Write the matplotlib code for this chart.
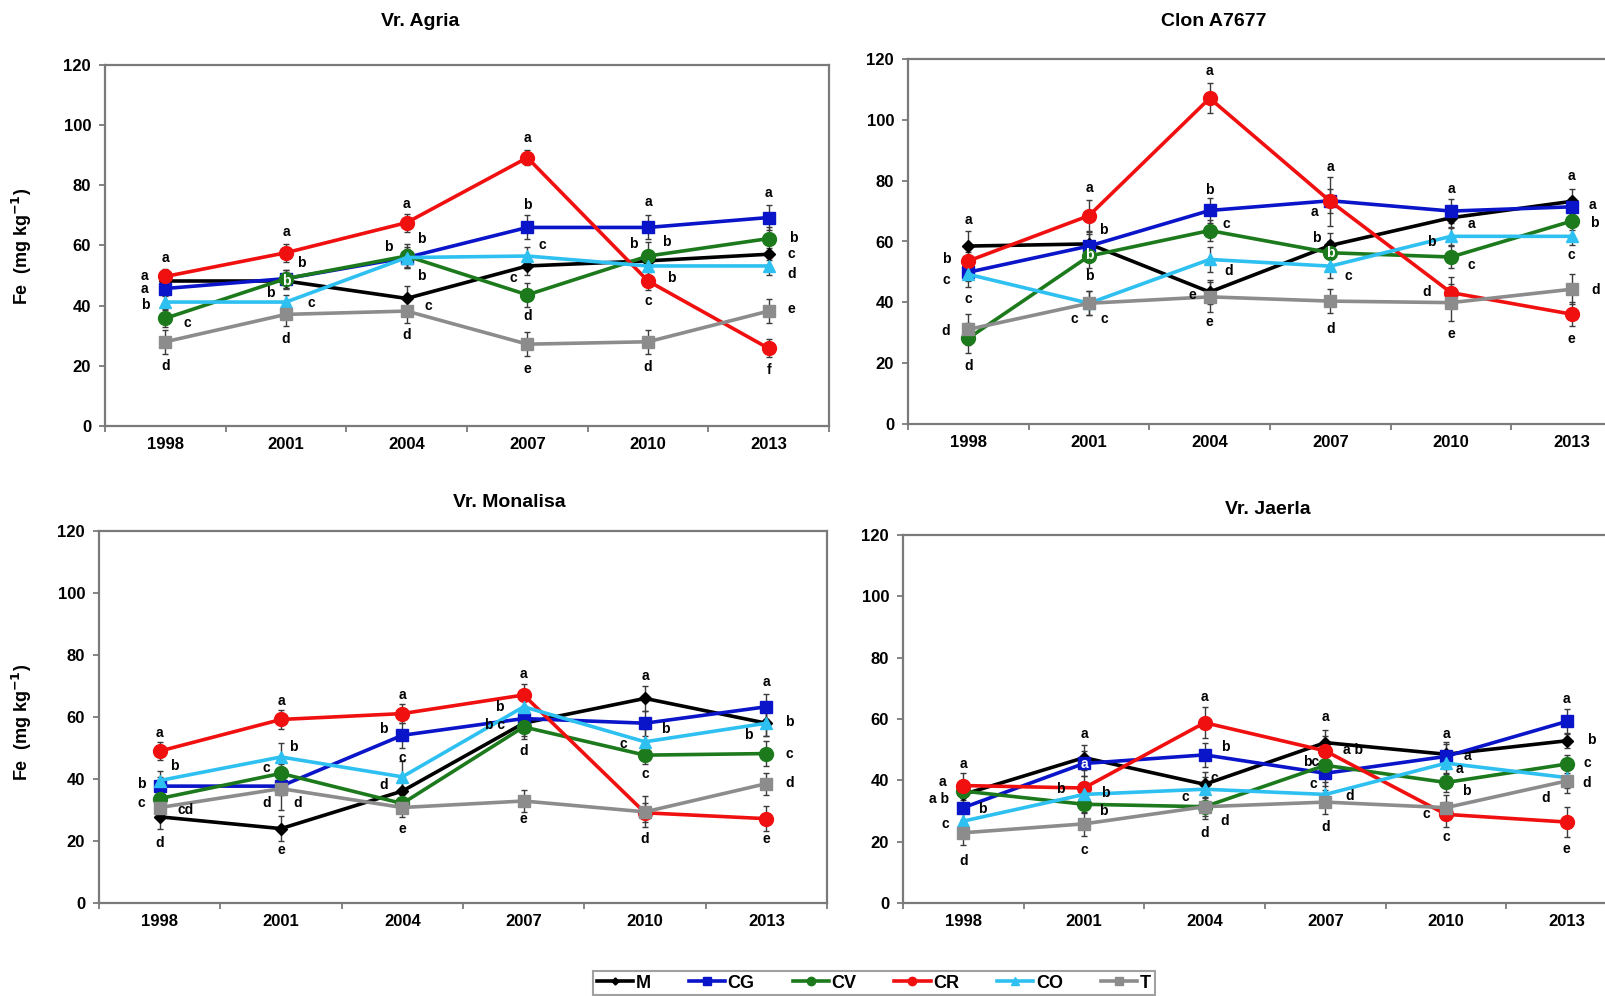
import matplotlib
matplotlib.use("Agg")
import matplotlib.pyplot as plt
from matplotlib.lines import Line2D

plt.rcParams['font.family'] = ['Liberation Sans', 'DejaVu Sans']
plt.rcParams['font.weight'] = 'bold'

years = ['1998', '2001', '2004', '2007', '2010', '2013']
series_names = ['M', 'CG', 'CV', 'CR', 'CO', 'T']

# ---------------- data (Fe, mg kg-1) ----------------
agria = {
    'M':  [48.2, 48.2, 42.4, 53.2, 54.9, 57.1],
    'CG': [45.7, 49.0, 56.0, 66.0, 66.0, 69.3],
    'CV': [35.8, 49.0, 56.5, 43.6, 56.5, 62.3],
    'CR': [49.7, 57.6, 67.6, 89.2, 48.2, 25.8],
    'CO': [41.2, 41.2, 56.0, 56.5, 53.2, 53.2],
    'T':  [28.0, 37.1, 38.2, 27.2, 28.0, 38.2],
}
agria_err = {
    'M':  [2.5, 2.5, 4.0, 3.0, 2.5, 2.0],
    'CG': [2.5, 3.0, 3.0, 4.0, 4.0, 4.0],
    'CV': [3.0, 3.0, 4.0, 4.0, 4.5, 4.0],
    'CR': [2.5, 3.0, 3.0, 2.5, 3.0, 3.0],
    'CO': [2.5, 2.5, 3.5, 3.0, 3.0, 3.0],
    'T':  [4.0, 4.0, 4.0, 4.0, 4.0, 4.0],
}
clon = {
    'M':  [58.5, 59.2, 43.4, 58.7, 67.8, 73.2],
    'CG': [49.9, 58.5, 70.2, 73.4, 70.0, 71.4],
    'CV': [28.2, 55.2, 63.6, 56.3, 54.9, 66.7],
    'CR': [53.6, 68.5, 107.1, 73.2, 43.2, 36.1],
    'CO': [49.2, 39.7, 54.1, 51.9, 61.7, 61.7],
    'T':  [31.1, 39.7, 41.8, 40.4, 39.9, 44.3],
}
clon_err = {
    'M':  [5.0, 4.0, 4.0, 4.0, 3.5, 4.0],
    'CG': [3.0, 4.0, 4.0, 4.0, 4.0, 3.0],
    'CV': [5.0, 4.0, 3.5, 4.0, 3.5, 3.0],
    'CR': [3.0, 5.0, 5.0, 8.0, 5.0, 4.0],
    'CO': [4.0, 4.0, 4.0, 4.0, 3.0, 3.0],
    'T':  [5.0, 4.0, 5.0, 4.0, 6.0, 5.0],
}
monalisa = {
    'M':  [27.8, 24.0, 36.1, 58.0, 66.0, 58.0],
    'CG': [37.7, 37.7, 54.1, 59.5, 58.0, 63.3],
    'CV': [33.7, 41.8, 32.1, 56.8, 47.7, 48.2],
    'CR': [49.0, 59.2, 61.1, 67.1, 29.1, 27.2],
    'CO': [39.5, 47.1, 40.7, 63.3, 52.0, 58.0],
    'T':  [30.8, 36.9, 30.8, 32.9, 29.4, 38.5],
}
monalisa_err = {
    'M':  [4.0, 4.0, 4.0, 4.0, 4.0, 4.0],
    'CG': [3.0, 3.0, 4.0, 4.0, 4.0, 4.0],
    'CV': [3.0, 3.0, 3.0, 4.0, 3.0, 4.0],
    'CR': [3.0, 3.0, 3.0, 3.5, 3.0, 4.0],
    'CO': [3.0, 4.5, 5.0, 4.0, 4.0, 4.0],
    'T':  [3.0, 7.0, 3.0, 3.5, 5.0, 3.5],
}
jaerla = {
    'M':  [35.4, 47.4, 38.7, 52.3, 48.5, 52.9],
    'CG': [31.1, 45.5, 48.3, 42.3, 47.8, 59.2],
    'CV': [36.5, 32.2, 31.4, 44.9, 39.3, 45.3],
    'CR': [38.3, 37.5, 58.8, 49.6, 28.9, 26.4],
    'CO': [26.7, 35.4, 37.1, 35.4, 45.6, 40.9],
    'T':  [22.9, 25.8, 31.4, 32.9, 31.1, 39.8],
}
jaerla_err = {
    'M':  [4.0, 4.0, 4.0, 4.0, 4.0, 2.5],
    'CG': [4.0, 4.0, 4.0, 4.0, 4.0, 4.0],
    'CV': [3.0, 3.0, 3.0, 3.0, 3.0, 3.0],
    'CR': [4.0, 4.0, 5.0, 5.0, 4.0, 5.0],
    'CO': [3.0, 4.0, 4.0, 4.0, 3.5, 3.5],
    'T':  [4.0, 4.0, 4.0, 4.0, 4.0, 4.0],
}

# significance letters: (year index, Fe value, x offset in categories, text[, 'w' = white])
agria_letters = [
    (0, 56.0, 0, 'a'), (0, 49.9, -0.17, 'a'), (0, 45.7, -0.17, 'a'), (0, 40.1, -0.17, 'b'),
    (0, 34.4, 0.18, 'c'), (0, 20.0, 0, 'd'),
    (1, 64.5, 0, 'a'), (1, 54.3, 0.13, 'b'), (1, 48.2, 0, 'b', 'w'), (1, 44.3, -0.13, 'b'),
    (1, 41.0, 0.21, 'c'), (1, 28.8, 0, 'd'),
    (2, 73.7, 0, 'a'), (2, 59.6, -0.15, 'b'), (2, 62.3, 0.12, 'b'), (2, 49.9, 0.12, 'b'),
    (2, 39.9, 0.18, 'c'), (2, 30.2, 0, 'd'),
    (3, 95.6, 0, 'a'), (3, 73.4, 0, 'b'), (3, 60.1, 0.12, 'c'), (3, 49.3, -0.12, 'c'),
    (3, 36.4, 0, 'd'), (3, 19.1, 0, 'e'),
    (4, 74.5, 0, 'a'), (4, 60.4, -0.12, 'b'), (4, 61.2, 0.15, 'b'), (4, 49.3, 0.19, 'b'),
    (4, 41.6, 0, 'c'), (4, 19.7, 0, 'd'),
    (5, 77.3, 0, 'a'), (5, 62.6, 0.2, 'b'), (5, 57.1, 0.19, 'c'), (5, 50.4, 0.19, 'd'),
    (5, 38.8, 0.19, 'e'), (5, 18.6, 0, 'f'),
]
clon_letters = [
    (0, 67.2, 0, 'a'), (0, 54.1, -0.18, 'b'), (0, 47.5, -0.18, 'c'), (0, 41.0, 0, 'c'),
    (0, 30.6, -0.185, 'd'), (0, 19.1, 0, 'd'),
    (1, 77.6, 0, 'a'), (1, 63.9, 0.12, 'b'), (1, 55.7, 0, 'b', 'w'), (1, 48.6, 0, 'b'),
    (1, 34.4, -0.12, 'c'), (1, 34.4, 0.13, 'c'),
    (2, 116.1, 0, 'a'), (2, 76.8, 0, 'b'), (2, 65.9, 0.14, 'c'), (2, 50.3, 0.16, 'd'),
    (2, 42.3, -0.14, 'e'), (2, 33.6, 0, 'e'),
    (3, 84.5, 0, 'a'), (3, 69.7, -0.13, 'a'), (3, 61.2, -0.12, 'b'), (3, 56.3, 0, 'b', 'w'),
    (3, 48.6, 0.15, 'c'), (3, 31.1, 0, 'd'),
    (4, 77.3, 0, 'a'), (4, 65.8, 0.17, 'a'), (4, 59.8, -0.165, 'b'), (4, 52.2, 0.17, 'c'),
    (4, 43.4, -0.2, 'd'), (4, 29.7, 0, 'e'),
    (5, 81.4, 0, 'a'), (5, 71.9, 0.17, 'a'), (5, 66.1, 0.185, 'b'), (5, 55.4, 0, 'c'),
    (5, 43.9, 0.2, 'd'), (5, 27.9, 0, 'e'),
]
monalisa_letters = [
    (0, 54.9, 0, 'a'), (0, 44.1, 0.12, 'b'), (0, 38.5, -0.15, 'b'), (0, 32.1, -0.15, 'c'),
    (0, 30.1, 0.21, 'cd'), (0, 19.4, 0, 'd'),
    (1, 65.1, 0, 'a'), (1, 50.4, 0.1, 'b'), (1, 43.4, -0.12, 'c'), (1, 32.1, -0.12, 'd'),
    (1, 32.1, 0.14, 'd'), (1, 17.0, 0, 'e'),
    (2, 67.1, 0, 'a'), (2, 56.0, -0.155, 'b'), (2, 46.9, 0, 'c'), (2, 38.0, -0.155, 'd'),
    (2, 24.0, 0, 'e'),
    (3, 73.8, 0, 'a'), (3, 63.1, -0.2, 'b'), (3, 57.4, -0.24, 'b c'), (3, 49.1, 0, 'd'),
    (3, 27.2, 0, 'e'),
    (4, 73.3, 0, 'a'), (4, 56.0, 0.17, 'b'), (4, 51.2, -0.18, 'c'), (4, 41.5, 0, 'c'),
    (4, 20.5, 0, 'd'),
    (5, 71.2, 0, 'a'), (5, 58.4, 0.19, 'b'), (5, 54.1, -0.15, 'b'), (5, 48.0, 0.19, 'c'),
    (5, 38.8, 0.19, 'd'), (5, 20.5, 0, 'e'),
]
jaerla_letters = [
    (0, 45.3, 0, 'a'), (0, 39.3, -0.17, 'a'), (0, 33.8, -0.2, 'a b'), (0, 30.5, 0.16, 'b'),
    (0, 25.8, -0.15, 'c'), (0, 13.6, 0, 'd'),
    (1, 55.1, 0, 'a'), (1, 45.3, 0, 'a', 'w'), (1, 37.3, -0.2, 'b'), (1, 36.0, 0.18, 'b'),
    (1, 30.0, 0.16, 'b'), (1, 17.4, 0, 'c'),
    (2, 67.3, 0, 'a'), (2, 51.0, 0.17, 'b'), (2, 40.9, 0.08, 'c'), (2, 34.7, -0.16, 'c'),
    (2, 26.7, 0.17, 'd'), (2, 22.9, 0, 'd'),
    (3, 60.5, 0, 'a'), (3, 49.8, 0.23, 'a b'), (3, 46.0, -0.12, 'bc'), (3, 38.7, -0.1, 'c'),
    (3, 34.9, 0.2, 'd'), (3, 24.9, 0, 'd'),
    (4, 55.1, 0, 'a'), (4, 48.0, 0.18, 'a'), (4, 43.6, 0.11, 'a'), (4, 36.5, 0.17, 'b'),
    (4, 28.9, -0.16, 'c'), (4, 21.6, 0, 'c'),
    (5, 66.5, 0, 'a'), (5, 53.2, 0.2, 'b'), (5, 45.6, 0.17, 'c'), (5, 39.0, 0.17, 'd'),
    (5, 34.4, -0.17, 'd'), (5, 17.7, 0, 'e'),
]

titles = ['Vr. Agria', 'Clon A7677', 'Vr. Monalisa', 'Vr. Jaerla']
y_label = 'Fe  (mg kg$^{\\mathbf{-1}}$)'

# ---------------- styles ----------------
styles = {
    'M':  dict(color='#000000', marker='D', ms=6),
    'CG': dict(color='#0A14C8', marker='s', ms=9),
    'CV': dict(color='#1C7A1C', marker='o', ms=10),
    'CR': dict(color='#F01010', marker='o', ms=10),
    'CO': dict(color='#2EC0F0', marker='^', ms=9),
    'T':  dict(color='#8C8C8C', marker='s', ms=9),
}

W, H = 1606, 996
fig = plt.figure(figsize=(W / 100, H / 100), dpi=100)

def px_axes(x0, y0, x1, y1):
    return fig.add_axes([x0 / W, 1 - y1 / H, (x1 - x0) / W, (y1 - y0) / H])

panels = [
    (px_axes(105, 65, 829, 426), agria, agria_err, agria_letters),
    (px_axes(908, 59, 1632, 424), clon, clon_err, clon_letters),
    (px_axes(99, 531, 827, 903), monalisa, monalisa_err, monalisa_letters),
    (px_axes(903, 535, 1627, 903), jaerla, jaerla_err, jaerla_letters),
]

xs = list(range(len(years)))
for ax, data, err, letters in panels:
    for name in series_names:
        st = styles[name]
        ax.errorbar(xs, data[name], yerr=err[name], color=st['color'], lw=2.6,
                    marker=st['marker'], ms=st['ms'], mec=st['color'], mfc=st['color'],
                    ecolor='#3a3a3a', elinewidth=1.0, capsize=2.5, capthick=1.0,
                    zorder=3)
    for item in letters:
        i, yv, dx, txt = item[:4]
        col = 'white' if len(item) > 4 else 'black'
        ax.text(i + dx, yv, txt, ha='center', va='center', fontsize=10,
                fontweight='bold', color=col, zorder=5)
    ax.set_xlim(-0.5, 5.5)
    ax.set_ylim(0, 120)
    ax.set_yticks(range(0, 121, 20))
    ax.set_xticks(xs)
    ax.set_xticklabels(years)
    ax.set_xticks([0.5 + k for k in range(-1, 6)], minor=True)
    ax.tick_params(axis='x', which='major', length=0, pad=8, labelsize=12)
    ax.tick_params(axis='x', which='minor', length=4, width=1.2, color='#707070', direction='out')
    ax.tick_params(axis='y', length=4, width=1.2, color='#707070', direction='out', labelsize=12, pad=6)
    for lab in ax.get_xticklabels() + ax.get_yticklabels():
        lab.set_fontweight('bold')
    for sp in ax.spines.values():
        sp.set_color('#7a7a7a')
        sp.set_linewidth(1.6)

# titles
title_pos = [(420, 22), (1214, 22), (509, 502), (1268, 509)]
for (tx, ty), t in zip(title_pos, titles):
    fig.text(tx / W, 1 - ty / H, t, ha='center', va='center', fontsize=14, fontweight='bold')

# y labels
for cy in (246, 722):
    fig.text(22 / W, 1 - cy / H, y_label, rotation=90, ha='center', va='center',
             fontsize=13, fontweight='bold')

# legend
handles = [Line2D([0], [0], color=styles[n]['color'], lw=2.6, marker=styles[n]['marker'],
                  ms=styles[n]['ms'] * 0.6, mfc=styles[n]['color'], mec=styles[n]['color'])
           for n in series_names]
leg = fig.legend(handles, series_names, loc='center', bbox_to_anchor=(874 / W, 1 - 983 / H),
                 ncol=6, frameon=True, fancybox=False,
                 prop={'weight': 'bold', 'size': 13}, handlelength=2.0,
                 handletextpad=0.15, columnspacing=2.1, borderpad=0.2)
frame = leg.get_frame()
frame.set_edgecolor('#8a8a8a')
frame.set_linewidth(1.5)

fig.savefig('out.png', dpi=100)
